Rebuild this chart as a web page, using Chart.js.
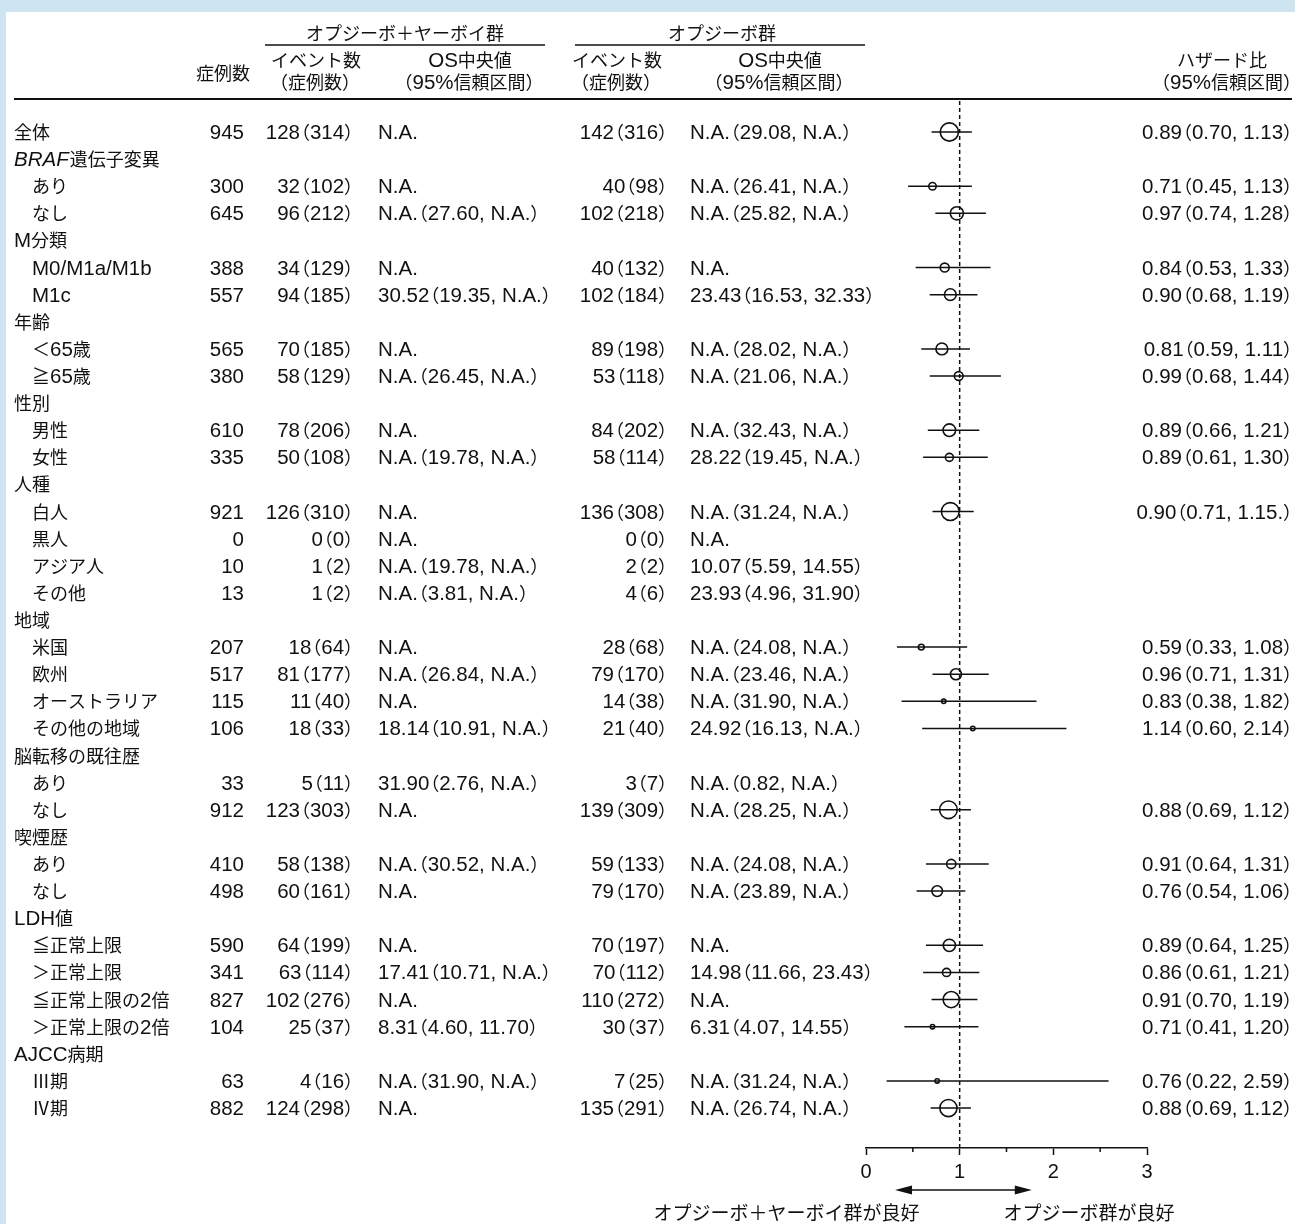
<!DOCTYPE html>
<html>
<head>
<meta charset="utf-8">
<script src="https://cdn.jsdelivr.net/npm/chart.js@4.4.1/dist/chart.umd.min.js"></script>
<style>
  html, body { margin: 0; padding: 0; }
  body { background: #cfe4f1; width: 1295px; height: 1224px; position: relative; overflow: hidden; }
  #panel { position: absolute; left: 6px; top: 12px; width: 1289px; height: 1212px; background: #fff; }
</style>
</head>
<body>
<div id="panel"><canvas id="forestChart"></canvas></div>
<script>
// rows of the table, top to bottom
var labels = ['全体', 'BRAF遺伝子変異', '\u3000あり', '\u3000なし', 'M分類', '\u3000M0/M1a/M1b', '\u3000M1c',
  '年齢', '\u3000＜65歳', '\u3000≧65歳', '性別', '\u3000男性', '\u3000女性',
  '人種', '\u3000白人', '\u3000黒人', '\u3000アジア人', '\u3000その他',
  '地域', '\u3000米国', '\u3000欧州', '\u3000オーストラリア', '\u3000その他の地域',
  '脳転移の既往歴', '\u3000あり', '\u3000なし', '喫煙歴', '\u3000あり', '\u3000なし',
  'LDH値', '\u3000≦正常上限', '\u3000＞正常上限', '\u3000≦正常上限の2倍', '\u3000＞正常上限の2倍',
  'AJCC病期', '\u3000Ⅲ期', '\u3000Ⅳ期'];

var nTotal = [945, null, 300, 645, null, 388, 557, null, 565, 380, null, 610, 335,
  null, 921, 0, 10, 13, null, 207, 517, 115, 106, null, 33, 912, null, 410, 498,
  null, 590, 341, 827, 104, null, 63, 882];

// オプジーボ+ヤーボイ群
var events1 = [128, null, 32, 96, null, 34, 94, null, 70, 58, null, 78, 50,
  null, 126, 0, 1, 1, null, 18, 81, 11, 18, null, 5, 123, null, 58, 60,
  null, 64, 63, 102, 25, null, 4, 124];
var patients1 = [314, null, 102, 212, null, 129, 185, null, 185, 129, null, 206, 108,
  null, 310, 0, 2, 2, null, 64, 177, 40, 33, null, 11, 303, null, 138, 161,
  null, 199, 114, 276, 37, null, 16, 298];
var osMedian1 = ['N.A.', null, 'N.A.', 'N.A.（27.60, N.A.）', null, 'N.A.', '30.52（19.35, N.A.）',
  null, 'N.A.', 'N.A.（26.45, N.A.）', null, 'N.A.', 'N.A.（19.78, N.A.）',
  null, 'N.A.', 'N.A.', 'N.A.（19.78, N.A.）', 'N.A.（3.81, N.A.）',
  null, 'N.A.', 'N.A.（26.84, N.A.）', 'N.A.', '18.14（10.91, N.A.）',
  null, '31.90（2.76, N.A.）', 'N.A.', null, 'N.A.（30.52, N.A.）', 'N.A.',
  null, 'N.A.', '17.41（10.71, N.A.）', 'N.A.', '8.31（4.60, 11.70）',
  null, 'N.A.（31.90, N.A.）', 'N.A.'];

// オプジーボ群
var events2 = [142, null, 40, 102, null, 40, 102, null, 89, 53, null, 84, 58,
  null, 136, 0, 2, 4, null, 28, 79, 14, 21, null, 3, 139, null, 59, 79,
  null, 70, 70, 110, 30, null, 7, 135];
var patients2 = [316, null, 98, 218, null, 132, 184, null, 198, 118, null, 202, 114,
  null, 308, 0, 2, 6, null, 68, 170, 38, 40, null, 7, 309, null, 133, 170,
  null, 197, 112, 272, 37, null, 25, 291];
var osMedian2 = ['N.A.（29.08, N.A.）', null, 'N.A.（26.41, N.A.）', 'N.A.（25.82, N.A.）', null, 'N.A.', '23.43（16.53, 32.33）',
  null, 'N.A.（28.02, N.A.）', 'N.A.（21.06, N.A.）', null, 'N.A.（32.43, N.A.）', '28.22（19.45, N.A.）',
  null, 'N.A.（31.24, N.A.）', 'N.A.', '10.07（5.59, 14.55）', '23.93（4.96, 31.90）',
  null, 'N.A.（24.08, N.A.）', 'N.A.（23.46, N.A.）', 'N.A.（31.90, N.A.）', '24.92（16.13, N.A.）',
  null, 'N.A.（0.82, N.A.）', 'N.A.（28.25, N.A.）', null, 'N.A.（24.08, N.A.）', 'N.A.（23.89, N.A.）',
  null, 'N.A.', '14.98（11.66, 23.43）', 'N.A.', '6.31（4.07, 14.55）',
  null, 'N.A.（31.24, N.A.）', 'N.A.（26.74, N.A.）'];

// hazard ratio and 95% CI
var hr = [0.89, null, 0.71, 0.97, null, 0.84, 0.90, null, 0.81, 0.99, null, 0.89, 0.89,
  null, 0.90, null, null, null, null, 0.59, 0.96, 0.83, 1.14, null, null, 0.88, null, 0.91, 0.76,
  null, 0.89, 0.86, 0.91, 0.71, null, 0.76, 0.88];
var hrLow = [0.70, null, 0.45, 0.74, null, 0.53, 0.68, null, 0.59, 0.68, null, 0.66, 0.61,
  null, 0.71, null, null, null, null, 0.33, 0.71, 0.38, 0.60, null, null, 0.69, null, 0.64, 0.54,
  null, 0.64, 0.61, 0.70, 0.41, null, 0.22, 0.69];
var hrHigh = [1.13, null, 1.13, 1.28, null, 1.33, 1.19, null, 1.11, 1.44, null, 1.21, 1.30,
  null, 1.15, null, null, null, null, 1.08, 1.31, 1.82, 2.14, null, null, 1.12, null, 1.31, 1.06,
  null, 1.25, 1.21, 1.19, 1.20, null, 2.59, 1.12];
// as printed (the 白人 row keeps its stray period)
var hrText = ['0.89（0.70, 1.13）', null, '0.71（0.45, 1.13）', '0.97（0.74, 1.28）', null, '0.84（0.53, 1.33）', '0.90（0.68, 1.19）',
  null, '0.81（0.59, 1.11）', '0.99（0.68, 1.44）', null, '0.89（0.66, 1.21）', '0.89（0.61, 1.30）',
  null, '0.90（0.71, 1.15.）', null, null, null,
  null, '0.59（0.33, 1.08）', '0.96（0.71, 1.31）', '0.83（0.38, 1.82）', '1.14（0.60, 2.14）',
  null, null, '0.88（0.69, 1.12）', null, '0.91（0.64, 1.31）', '0.76（0.54, 1.06）',
  null, '0.89（0.64, 1.25）', '0.86（0.61, 1.21）', '0.91（0.70, 1.19）', '0.71（0.41, 1.20）',
  null, '0.76（0.22, 2.59）', '0.88（0.69, 1.12）'];

var xTicks = [0, 1, 2, 3];
var minorTicks = [0.5, 1.5, 2.5];

var LATIN = '"Liberation Sans", Arial, sans-serif';
var CJK = '"Noto Sans CJK JP", sans-serif';
var INK = '#111';
var CS = 18;   // kana / kanji size
var LS = 20.5; // latin and digit size

function isWide(ch) { return ch.charCodeAt(0) > 0x2000; }

// split into latin / cjk runs, full-width brackets set tight like the print
function layoutRich(c, text, cs, ls, style) {
  var parts = [], buf = '', wide = null, w = 0;
  function flush() {
    if (!buf) return;
    var f = (style ? style + ' ' : '') + (wide ? cs + 'px ' + CJK : ls + 'px ' + LATIN);
    c.font = f;
    var pw = c.measureText(buf).width;
    parts.push({ s: buf, font: f, w: pw, dx: 0 });
    w += pw;
    buf = '';
  }
  for (var k = 0; k < text.length; k++) {
    var ch = text[k];
    if (ch === '（' || ch === '）') {
      flush();
      parts.push({ s: ch, font: cs + 'px ' + CJK, w: 0.55 * cs, dx: ch === '（' ? -0.45 * cs : 0 });
      w += 0.55 * cs;
      continue;
    }
    var wd = isWide(ch);
    if (buf && wd !== wide) flush();
    wide = wd;
    buf += ch;
  }
  flush();
  return { parts: parts, w: w };
}

function drawRich(c, text, x, y, align, cs, ls, style) {
  var lay = layoutRich(c, text, cs || CS, ls || LS, style);
  var cx = align === 'right' ? x - lay.w : (align === 'center' ? x - lay.w / 2 : x);
  c.textAlign = 'left';
  c.textBaseline = 'alphabetic';
  lay.parts.forEach(function(p) {
    c.font = p.font;
    c.fillText(p.s, cx + p.dx, y + 7);
    cx += p.w;
  });
  return cx;
}

// table text, headers, whiskers, reference line and arrow
var forestTable = {
  id: 'forestTable',
  beforeDatasetsDraw: function(chart) {
    var c = chart.ctx, xs = chart.scales.x, ys = chart.scales.y, area = chart.chartArea;
    c.save();
    c.strokeStyle = INK;
    // dashed line at HR = 1
    c.lineWidth = 1.5;
    c.setLineDash([4, 3]);
    c.beginPath();
    c.moveTo(xs.getPixelForValue(1), area.top + 2);
    c.lineTo(xs.getPixelForValue(1), area.bottom);
    c.stroke();
    c.setLineDash([]);
    // confidence intervals
    c.lineWidth = 1.5;
    for (var i = 0; i < labels.length; i++) {
      if (hr[i] == null) continue;
      var y = ys.getPixelForValue(i);
      c.beginPath();
      c.moveTo(xs.getPixelForValue(hrLow[i]), y);
      c.lineTo(xs.getPixelForValue(hrHigh[i]), y);
      c.stroke();
    }
    c.restore();
  },
  afterDraw: function(chart) {
    var c = chart.ctx, xs = chart.scales.x, ys = chart.scales.y, area = chart.chartArea;
    c.save();
    c.fillStyle = INK;
    c.strokeStyle = INK;

    // headers
    drawRich(c, 'オプジーボ＋ヤーボイ群', 399, 21, 'center');
    drawRich(c, 'オプジーボ群', 716, 21, 'center');
    c.lineWidth = 1.3;
    c.beginPath();
    c.moveTo(259, 33); c.lineTo(539, 33);
    c.moveTo(569, 33); c.lineTo(859, 33);
    c.stroke();
    drawRich(c, '症例数', 217, 61, 'center');
    drawRich(c, 'イベント数', 310, 48, 'center');
    drawRich(c, '（症例数）', 309, 70, 'center');
    drawRich(c, 'OS中央値', 464, 48, 'center');
    drawRich(c, '（95%信頼区間）', 463, 70, 'center');
    drawRich(c, 'イベント数', 611, 48, 'center');
    drawRich(c, '（症例数）', 610, 70, 'center');
    drawRich(c, 'OS中央値', 774, 48, 'center');
    drawRich(c, '（95%信頼区間）', 773, 70, 'center');
    drawRich(c, 'ハザード比', 1216, 48, 'center');
    drawRich(c, '（95%信頼区間）', 1287, 70, 'right');
    c.lineWidth = 2;
    c.beginPath();
    c.moveTo(8, 87); c.lineTo(1286, 87);
    c.stroke();

    // rows
    for (var i = 0; i < labels.length; i++) {
      var y = ys.getPixelForValue(i);
      if (labels[i].indexOf('BRAF') === 0) {
        var nx = drawRich(c, 'BRAF', 8, y, 'left', CS, LS, 'italic');
        drawRich(c, labels[i].slice(4), nx + 1, y, 'left');
      } else {
        drawRich(c, labels[i], 8, y, 'left');
      }
      if (nTotal[i] != null) {
        drawRich(c, String(nTotal[i]), 238, y, 'right');
        drawRich(c, events1[i] + '（' + patients1[i] + '）', 348, y, 'right');
        drawRich(c, events2[i] + '（' + patients2[i] + '）', 662, y, 'right');
        drawRich(c, osMedian1[i], 372, y, 'left');
        drawRich(c, osMedian2[i], 684, y, 'left');
      }
      if (hrText[i] != null) {
        drawRich(c, hrText[i], 1287, y, 'right');
      }
    }

    // minor ticks
    c.lineWidth = 1.5;
    c.beginPath();
    minorTicks.forEach(function(v) {
      var x = xs.getPixelForValue(v);
      c.moveTo(x, area.bottom);
      c.lineTo(x, area.bottom + 4);
    });
    c.stroke();

    // double arrow and captions
    var ay = area.bottom + 42;
    var x0 = xs.getPixelForValue(0.31), x1 = xs.getPixelForValue(1.77);
    c.lineWidth = 1.5;
    c.beginPath();
    c.moveTo(x0 + 10, ay); c.lineTo(x1 - 10, ay);
    c.stroke();
    c.beginPath();
    c.moveTo(x0, ay); c.lineTo(x0 + 17, ay - 4.5); c.lineTo(x0 + 17, ay + 4.5); c.closePath();
    c.moveTo(x1, ay); c.lineTo(x1 - 17, ay - 4.5); c.lineTo(x1 - 17, ay + 4.5); c.closePath();
    c.fill();
    drawRich(c, 'オプジーボ＋ヤーボイ群が良好', xs.getPixelForValue(-0.85), area.bottom + 65, 'center', 19, 20);
    drawRich(c, 'オプジーボ群が良好', xs.getPixelForValue(2.38), area.bottom + 65, 'center', 19, 20);
    c.restore();
  }
};

function buildPoints() {
  var pts = [];
  for (var i = 0; i < labels.length; i++) {
    if (hr[i] != null) pts.push({ x: hr[i], y: i, n: nTotal[i] });
  }
  return pts;
}

function markerRadius(p) {
  return p.raw ? Math.max(2.2, 1.2 + 7.9 * p.raw.n / 945) : 3;
}

function createChart() {
  var ctx = document.getElementById('forestChart').getContext('2d');
  var forest = new Chart(ctx, {
    type: 'scatter',
    data: {
      datasets: [{
        label: 'HR',
        data: buildPoints(),
        pointRadius: markerRadius,
        pointHoverRadius: markerRadius,
        pointBackgroundColor: 'rgba(0,0,0,0)',
        pointBorderColor: INK,
        pointBorderWidth: 1.6
      }]
    },
    options: {
      animation: false,
      responsive: true,
      maintainAspectRatio: false,
      events: [],
      layout: { padding: { left: 860, right: 148, top: 87, bottom: 0 } },
      plugins: { legend: { display: false }, tooltip: { enabled: false } },
      scales: {
        x: {
          type: 'linear',
          min: 0,
          max: 3,
          afterFit: function(scale) { scale.height = 76; },
          afterBuildTicks: function(scale) {
            scale.ticks = xTicks.map(function(v) { return { value: v }; });
          },
          ticks: {
            autoSkip: false,
            maxRotation: 0,
            padding: 5,
            color: INK,
            font: { family: LATIN, size: 20 }
          },
          grid: { drawOnChartArea: false, tickLength: 7, tickColor: INK, tickWidth: 1.5 },
          border: { display: true, color: INK, width: 1.5 }
        },
        y: { type: 'linear', reverse: true, min: -1.217, max: 37.475, display: false }
      }
    },
    plugins: [forestTable]
  });
}

document.addEventListener('DOMContentLoaded', createChart);
</script>
</body>
</html>
